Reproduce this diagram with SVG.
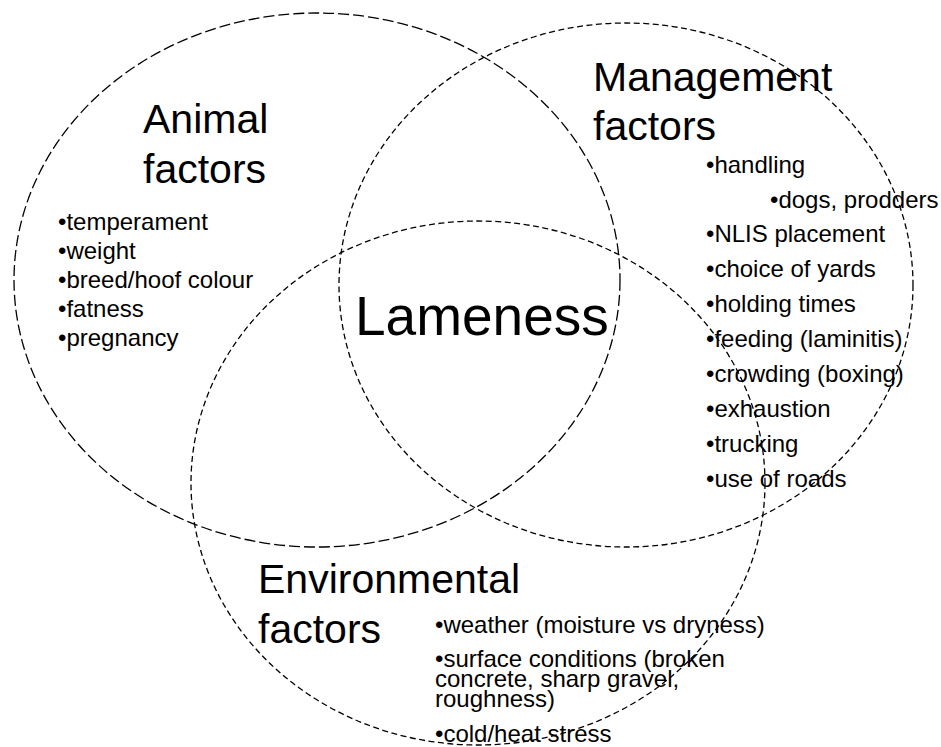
<svg xmlns="http://www.w3.org/2000/svg" width="941" height="747" viewBox="0 0 941 747">
<style>
  .ring { fill: none; stroke: #000; stroke-width: 1.3; }
  .longdash { stroke-dasharray: 11 4; }
  .shortdash { stroke-dasharray: 6 3.5; }
  text { font-family: "Liberation Sans", Arial, sans-serif; fill: #000; }
  .title { font-size: 41px; }
  .item { font-size: 24px; }
  .center { font-size: 55px; }
</style>
<rect width="941" height="747" fill="#fff"/>
<g id="connectors"/>
<g id="animal">
  <ellipse class="ring longdash" cx="317" cy="280" rx="303" ry="267"/>
  <text class="title" x="143" y="133">Animal</text>
  <text class="title" x="143" y="183">factors</text>
  <text class="item" x="58" y="230">•temperament</text>
  <text class="item" x="58" y="259">•weight</text>
  <text class="item" x="58" y="288">•breed/hoof colour</text>
  <text class="item" x="58" y="317">•fatness</text>
  <text class="item" x="58" y="346">•pregnancy</text>
</g>
<g id="management">
  <ellipse class="ring shortdash" cx="626" cy="285" rx="287" ry="262"/>
  <text class="title" x="593" y="91">Management</text>
  <text class="title" x="593" y="140">factors</text>
  <text class="item" x="706" y="173">•handling</text>
  <text class="item" x="770" y="208">•dogs, prodders</text>
  <text class="item" x="706" y="242">•NLIS placement</text>
  <text class="item" x="706" y="277">•choice of yards</text>
  <text class="item" x="706" y="312">•holding times</text>
  <text class="item" x="706" y="347">•feeding (laminitis)</text>
  <text class="item" x="706" y="382">•crowding (boxing)</text>
  <text class="item" x="706" y="417">•exhaustion</text>
  <text class="item" x="706" y="452">•trucking</text>
  <text class="item" x="706" y="487">•use of roads</text>
</g>
<g id="environmental">
  <ellipse class="ring shortdash" cx="478" cy="483" rx="287" ry="262"/>
  <text class="title" x="258" y="593">Environmental</text>
  <text class="title" x="258" y="643">factors</text>
  <text class="item" x="435" y="633">•weather (moisture vs dryness)</text>
  <text class="item"><tspan x="435" y="667">•surface conditions (broken</tspan><tspan x="435" y="687">concrete, sharp gravel,</tspan><tspan x="435" y="707">roughness)</tspan></text>
  <text class="item" x="435" y="742">•cold/heat stress</text>
</g>
<g id="lameness">
  <text class="center" x="355" y="335">Lameness</text>
</g>
</svg>
